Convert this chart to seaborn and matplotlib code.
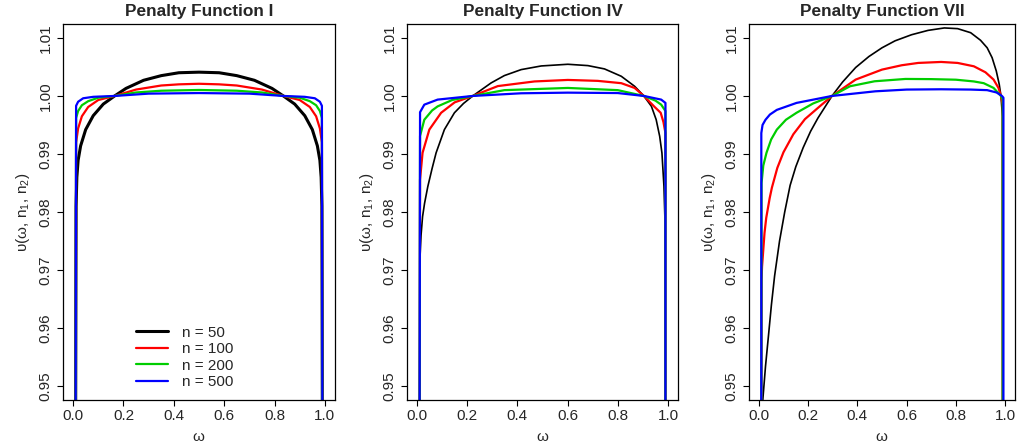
import matplotlib
matplotlib.use("Agg")
import matplotlib.pyplot as plt
import seaborn as sns

# --- values (omega, upsilon) ---
# Penalty Function I
w_I_50 = [0.010, 0.012, 0.015, 0.020, 0.030, 0.050, 0.080, 0.120, 0.165, 0.210, 0.280, 0.350, 0.420, 0.500,
          0.580, 0.650, 0.720, 0.790, 0.835, 0.880, 0.920, 0.950, 0.970, 0.980, 0.985, 0.988, 0.990]
v_I_50 = [0.940, 0.981, 0.986, 0.9889, 0.9914, 0.9942, 0.9966, 0.9986, 1.0000, 1.0013, 1.0027, 1.0035, 1.0040, 1.0041,
          1.0040, 1.0035, 1.0027, 1.0013, 1.0000, 0.9986, 0.9966, 0.9942, 0.9914, 0.9889, 0.986, 0.981, 0.940]
w_I_100 = [0.010, 0.012, 0.020, 0.035, 0.060, 0.100, 0.165, 0.250, 0.350, 0.420, 0.500,
           0.580, 0.650, 0.750, 0.835, 0.900, 0.940, 0.965, 0.980, 0.988, 0.990]
v_I_100 = [0.940, 0.9920, 0.9944, 0.9965, 0.9981, 0.9993, 1.0000, 1.0011, 1.0018, 1.0020, 1.0021,
           1.0020, 1.0018, 1.0011, 1.0000, 0.9993, 0.9981, 0.9965, 0.9944, 0.9920, 0.940]
w_I_200 = [0.010, 0.012, 0.020, 0.035, 0.060, 0.100, 0.165, 0.250, 0.350, 0.500,
           0.650, 0.750, 0.835, 0.900, 0.940, 0.965, 0.980, 0.988, 0.990]
v_I_200 = [0.940, 0.9962, 0.9974, 0.9984, 0.9991, 0.9997, 1.0000, 1.0006, 1.0009, 1.00103,
           1.0009, 1.0006, 1.0000, 0.9997, 0.9991, 0.9984, 0.9974, 0.9962, 0.940]
w_I_500 = [0.010, 0.012, 0.020, 0.040, 0.080, 0.165, 0.300, 0.500, 0.700, 0.835, 0.920, 0.960, 0.980, 0.988, 0.990]
v_I_500 = [0.940, 0.9983, 0.9990, 0.9996, 0.99985, 1.0000, 1.0004, 1.0005, 1.0004, 1.0000, 0.99985, 0.9996, 0.9990, 0.9983, 0.940]

# Penalty Function IV
w_IV_50 = [0.010, 0.012, 0.016, 0.022, 0.030, 0.043, 0.060, 0.076, 0.109, 0.149, 0.185, 0.222, 0.295, 0.348, 0.415, 0.495,
           0.601, 0.681, 0.747, 0.814, 0.867, 0.904, 0.934, 0.953, 0.967, 0.976, 0.984, 0.988, 0.990]
v_IV_50 = [0.940, 0.9723, 0.9760, 0.9792, 0.9815, 0.9844, 0.9875, 0.9902, 0.9942, 0.9971, 0.9987, 1.0000, 1.00224, 1.00351, 1.00454, 1.00517,
           1.00546, 1.00523, 1.00466, 1.00339, 1.00167, 1.0000, 0.99822, 0.99592, 0.99305, 0.99017, 0.98443, 0.97866, 0.940]
w_IV_100 = [0.010, 0.012, 0.022, 0.049, 0.096, 0.150, 0.222, 0.322, 0.468, 0.601, 0.720, 0.814, 0.867, 0.904, 0.947, 0.971, 0.982, 0.990, 0.990]
v_IV_100 = [0.940, 0.9856, 0.9902, 0.9942, 0.9971, 0.9989, 1.0000, 1.0017, 1.0025, 1.00276, 1.0026, 1.0022, 1.00138, 1.0000, 0.9981, 0.9971, 0.9955, 0.9936, 0.940]
w_IV_200 = [0.010, 0.012, 0.029, 0.060, 0.082, 0.140, 0.222, 0.348, 0.601, 0.800, 0.904, 0.950, 0.973, 0.990, 0.990]
v_IV_200 = [0.940, 0.9931, 0.9959, 0.9975, 0.9982, 0.9993, 1.0000, 1.0010, 1.00138, 1.0010, 1.0000, 0.9992, 0.9985, 0.9974, 0.940]
w_IV_500 = [0.010, 0.012, 0.029, 0.082, 0.222, 0.415, 0.601, 0.800, 0.904, 0.973, 0.990, 0.990]
v_IV_500 = [0.940, 0.9972, 0.9985, 0.99937, 1.0000, 1.00046, 1.00057, 1.0005, 1.0000, 0.99937, 0.9988, 0.940]

# Penalty Function VII
w_VII_50 = [0.012, 0.016, 0.027, 0.040, 0.051, 0.064, 0.084, 0.105, 0.127, 0.150, 0.180, 0.210, 0.240, 0.270, 0.297, 0.340,
            0.393, 0.447, 0.500, 0.553, 0.620, 0.687, 0.753, 0.807, 0.860, 0.900, 0.927, 0.947, 0.964, 0.976, 0.983, 0.989, 0.990]
v_VII_50 = [0.935, 0.9476, 0.9534, 0.9591, 0.9640, 0.9690, 0.9750, 0.9800, 0.9846, 0.9878, 0.9911, 0.9939, 0.9962, 0.9982, 1.0000, 1.0024,
            1.0049, 1.0068, 1.0083, 1.0095, 1.01055, 1.0113, 1.01172, 1.0116, 1.0109, 1.0096, 1.0083, 1.0066, 1.0043, 1.0020, 1.0000, 0.9965, 0.940]
w_VII_100 = [0.010, 0.011, 0.013, 0.023, 0.030, 0.044, 0.053, 0.075, 0.100, 0.140, 0.187, 0.247, 0.297, 0.393, 0.500, 0.580,
             0.647, 0.740, 0.807, 0.873, 0.920, 0.953, 0.973, 0.983, 0.990, 0.990]
v_VII_100 = [0.940, 0.9683, 0.9706, 0.9764, 0.9790, 0.9824, 0.9842, 0.9876, 0.9903, 0.9934, 0.9960, 0.9982, 1.0000, 1.00282, 1.00454, 1.00529,
             1.00569, 1.00586, 1.00569, 1.00511, 1.00408, 1.00282, 1.00138, 1.0000, 0.9985, 0.940]
w_VII_200 = [0.010, 0.011, 0.018, 0.031, 0.050, 0.073, 0.110, 0.153, 0.220, 0.297, 0.370, 0.470, 0.595, 0.700, 0.800, 0.873,
             0.913, 0.953, 0.983, 0.990, 0.990]
v_VII_200 = [0.940, 0.9850, 0.9880, 0.9902, 0.9925, 0.9942, 0.9959, 0.9971, 0.9987, 1.0000, 1.00167, 1.00253, 1.00293, 1.0029, 1.0028, 1.0025,
             1.0022, 1.00138, 1.0000, 0.9994, 0.940]
w_VII_500 = [0.010, 0.010, 0.015, 0.027, 0.045, 0.073, 0.153, 0.297, 0.473, 0.600, 0.740, 0.860, 0.927, 0.965, 0.987, 0.993, 0.993]
v_VII_500 = [0.940, 0.9936, 0.9950, 0.9959, 0.9968, 0.9976, 0.9988, 1.0000, 1.0008, 1.0011, 1.00115, 1.0011, 1.0010, 1.0006, 1.0000, 0.9997, 0.940]

titles = ["Penalty Function I", "Penalty Function IV", "Penalty Function VII"]
n_labels = ["n = 50", "n = 100", "n = 200", "n = 500"]
colors = ["black", "#FF0000", "#00CD00", "#0000FF"]
xticks = [0.0, 0.2, 0.4, 0.6, 0.8, 1.0]
yticks = [0.95, 0.96, 0.97, 0.98, 0.99, 1.00, 1.01]

panels = [
    [(w_I_50, v_I_50), (w_I_100, v_I_100), (w_I_200, v_I_200), (w_I_500, v_I_500)],
    [(w_IV_50, v_IV_50), (w_IV_100, v_IV_100), (w_IV_200, v_IV_200), (w_IV_500, v_IV_500)],
    [(w_VII_50, v_VII_50), (w_VII_100, v_VII_100), (w_VII_200, v_VII_200), (w_VII_500, v_VII_500)],
]

sns.set_style("white")
plt.rcParams['font.family'] = ['Liberation Sans', 'DejaVu Sans']
plt.rcParams['mathtext.fontset'] = 'custom'
plt.rcParams['mathtext.rm'] = 'Liberation Sans'
plt.rcParams['mathtext.it'] = 'Liberation Sans'
plt.rcParams['mathtext.sf'] = 'Liberation Sans'
plt.rcParams['lines.solid_joinstyle'] = 'round'

W, H = 1025, 445
fig = plt.figure(figsize=(W / 100, H / 100), dpi=100)
boxes = [(63, 335), (407, 678), (749, 1015)]
top, bottom = 24, 400

ylab = r"$\mathrm{\upsilon(\omega,\,n_1,\,n_2)}$"

for i, (l, r) in enumerate(boxes):
    ax = fig.add_axes([l / W, (H - bottom) / H, (r - l) / W, (bottom - top) / H])
    black_lw = 2.2 if i == 0 else 1.2
    for j, (w, v) in enumerate(panels[i]):
        sns.lineplot(x=w, y=v, ax=ax, color=colors[j], linewidth=black_lw if j == 0 else 1.6,
                     sort=False, estimator=None, label=n_labels[j] if i == 0 else None, legend=False)
    ax.set_xlim(-0.04, 1.04)
    ax.set_ylim(0.9476, 1.0124)
    ax.set_xticks(xticks)
    ax.set_xticklabels([f"{t:.1f}" for t in xticks], fontsize=11)
    ax.set_yticks(yticks)
    ax.set_yticklabels([f"{t:.2f}" for t in yticks], fontsize=11, rotation=90, va="center")
    ax.tick_params(direction="out", length=4.3, width=0.8, color="black", pad=2, left=True, bottom=True)
    ax.tick_params(axis="y", pad=3)
    for s in ax.spines.values():
        s.set_visible(True)
        s.set_color("black")
        s.set_linewidth(0.9)
    ax.set_title(titles[i], fontsize=12.4, fontweight="bold", pad=6)
    ax.set_xlabel(r"$\mathrm{\omega}$", fontsize=11, labelpad=5)
    ax.set_ylabel(ylab, fontsize=11, labelpad=5)
    if i == 0:
        ax.legend(loc="lower left", bbox_to_anchor=(0.23, 0.0), frameon=False, fontsize=11,
                  handlelength=2.1, handletextpad=0.9, labelspacing=0.17, borderaxespad=0.3)

fig.savefig("out.png", dpi=100)
